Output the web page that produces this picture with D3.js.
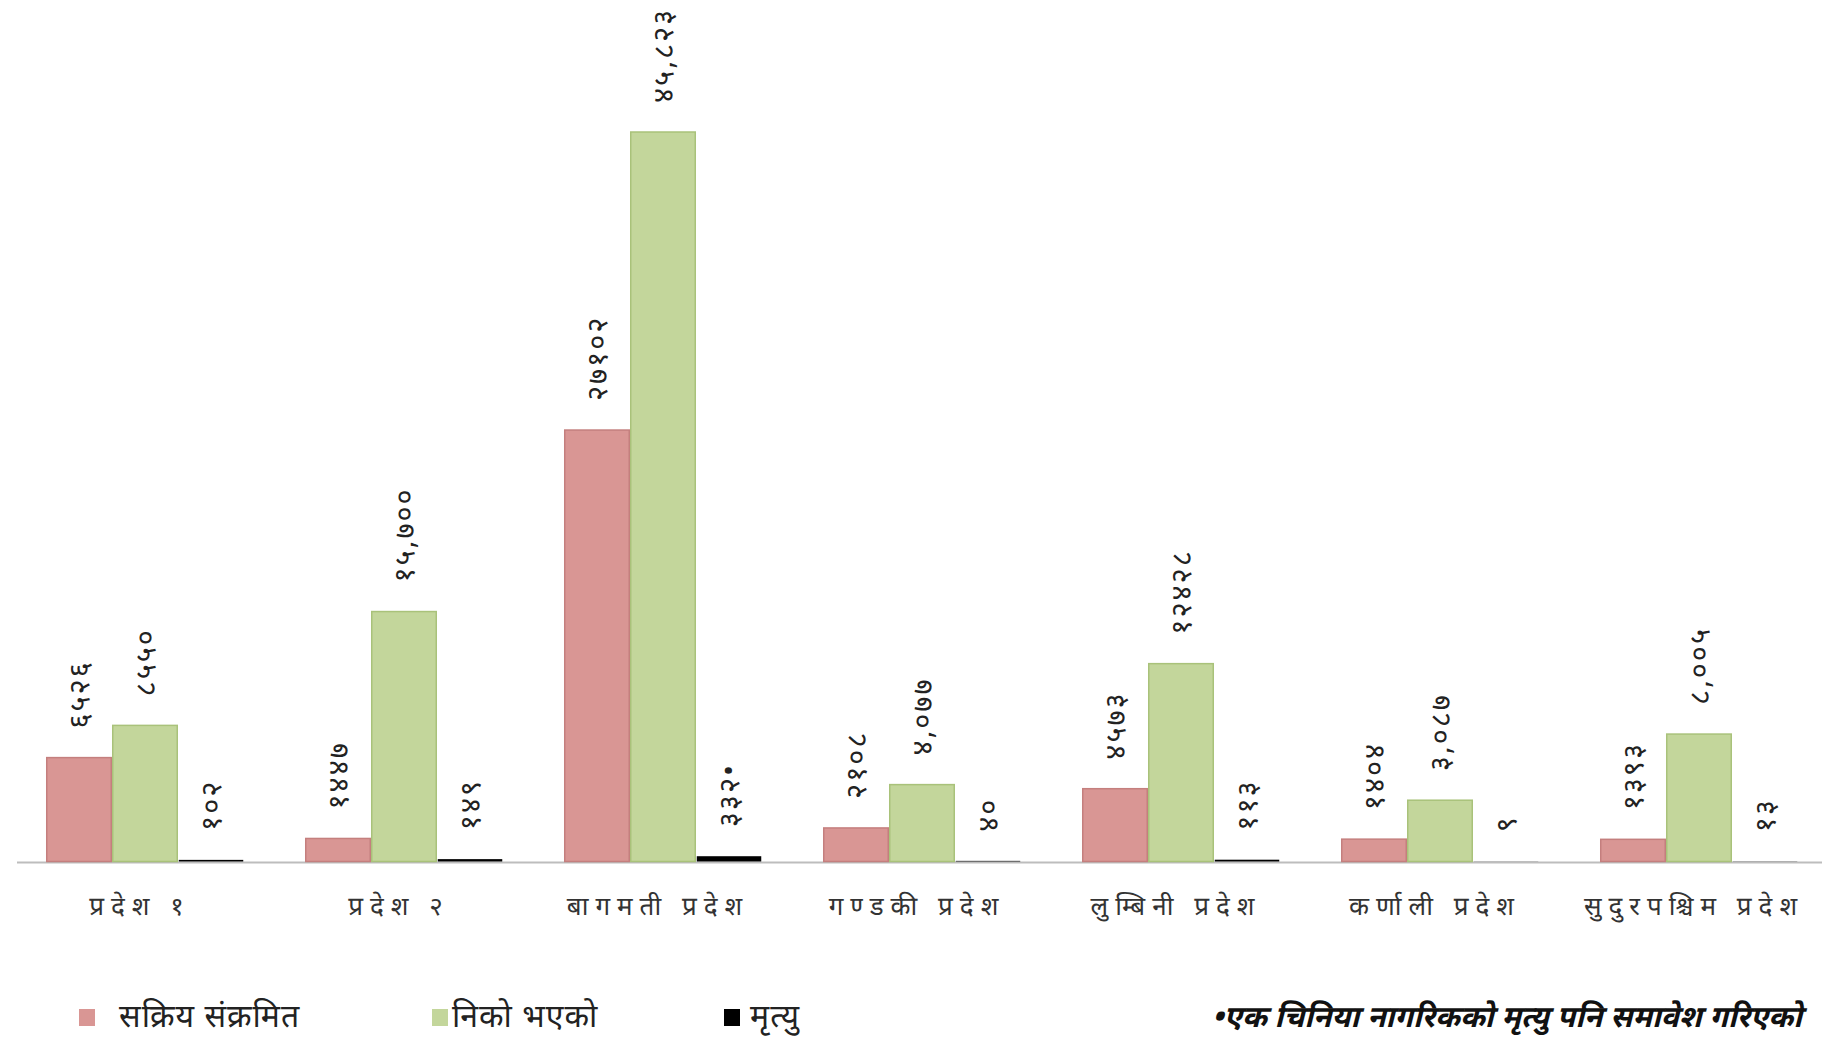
<!DOCTYPE html>
<html><head><meta charset="utf-8">
<script src="https://cdn.jsdelivr.net/npm/d3@7"></script>
<style>body{margin:0;background:#fff}svg{display:block}</style>
</head><body>
<svg id="chart" width="1822" height="1049"></svg>
<script>
const categories = ["प्रदेश १","प्रदेश २","बागमती प्रदेश","गण्डकी प्रदेश","लुम्बिनी प्रदेश","कर्णाली प्रदेश","सुदुरपश्चिम प्रदेश"];
const seriesNames = ["सक्रिय संक्रमित","निको भएको","मृत्यु"];
const active    = [6526, 1447, 27102, 2108, 4573, 1404, 1393];
const recovered = [8550, 15700, 45823, 4830, 12428, 3850, 8005];
const deaths    = [102, 149, 332, 40, 113, 9, 13];
const activeLabels    = ["६५२६","१४४७","२७१०२","२१०८","४५७३","१४०४","१३९३"];
const recoveredLabels = ["८५५०","१५,७००","४५,८२३","४,०७७","१२४२८","३,०८७","८,००५"];
const deathLabels     = ["१०२","१४९","३३२•","४०","११३","९","१३"];
const footnote = "•एक चिनिया नागरिकको मृत्यु पनि समावेश गरिएको";

const fills   = ["#d99694","#c3d69b","#000000"];
const strokes = ["#c47f7e","#a9c27a","#000000"];

const svg = d3.select("#chart");
const baseY = 861.5;
const series = [active, recovered, deaths];
const labels = [activeLabels, recoveredLabels, deathLabels];

const x0 = d3.scaleBand().domain(categories).range([15.5, 15.5 + 7*259]).paddingInner(0.2355).paddingOuter(0.11775);
const x1 = d3.scaleBand().domain(seriesNames).range([0, x0.bandwidth()]);
const y = d3.scaleLinear().domain([0, d3.max(recovered)]).range([baseY, 132]);

const devFont = "'Noto Sans Devanagari','Lohit Devanagari','Noto Sans',sans-serif";

// axis baseline
svg.append("line").attr("x1", 17).attr("x2", 1822).attr("y1", 862.5).attr("y2", 862.5)
  .attr("stroke", "#bdbdbd").attr("stroke-width", 2);

const groups = svg.selectAll("g.cat").data(categories).enter().append("g")
  .attr("class","cat").attr("transform", d => `translate(${x0(d)},0)`);

seriesNames.forEach((s, si) => {
  groups.append("rect")
    .attr("x", x1(s) + 0.75)
    .attr("width", x1.bandwidth() - 1.5)
    .attr("y", (d,i) => y(series[si][i]))
    .attr("height", (d,i) => Math.max(0, baseY - y(series[si][i])))
    .attr("fill", fills[si])
    .attr("stroke", strokes[si])
    .attr("stroke-width", si === 2 ? 0 : 1.5);
  groups.append("text")
    .attr("transform", (d,i) => `translate(${x1(s) + x1.bandwidth()/2}, ${y(series[si][i]) - 29}) rotate(-90)`)
    .attr("text-anchor", "start")
    .attr("dy", "0.35em")
    .attr("font-family", devFont)
    .attr("font-size", 29)
    .attr("letter-spacing", 2)
    .attr("fill", "#222")
    .text((d,i) => labels[si][i]);
});

// category labels
svg.selectAll("text.cat").data(categories).enter().append("text")
  .attr("class","cat")
  .attr("x", d => x0(d) + x0.bandwidth()/2 - 5)
  .attr("y", 915)
  .attr("text-anchor","middle")
  .attr("font-family", devFont)
  .attr("font-size", 26)
  .attr("letter-spacing", 7)
  .attr("fill", "#333")
  .text(d => d);

// legend
const legendX = [79, 432, 724];
const legendTextX = [119, 452, 750];
seriesNames.forEach((s, si) => {
  svg.append("rect").attr("x", legendX[si]).attr("y", 1009).attr("width", 16).attr("height", 17)
    .attr("fill", fills[si]);
  svg.append("text").attr("x", legendTextX[si]).attr("y", 1027)
    .attr("font-family", devFont).attr("font-size", 32).attr("letter-spacing", 1).attr("fill", "#222").text(s);
});

// footnote
svg.append("text").attr("x", 1802).attr("y", 1027).attr("text-anchor","end")
  .attr("font-family", devFont).attr("font-size", 30).attr("font-style","italic").attr("font-weight","bold")
  .attr("fill", "#111").text(footnote);
</script>
</body></html>
